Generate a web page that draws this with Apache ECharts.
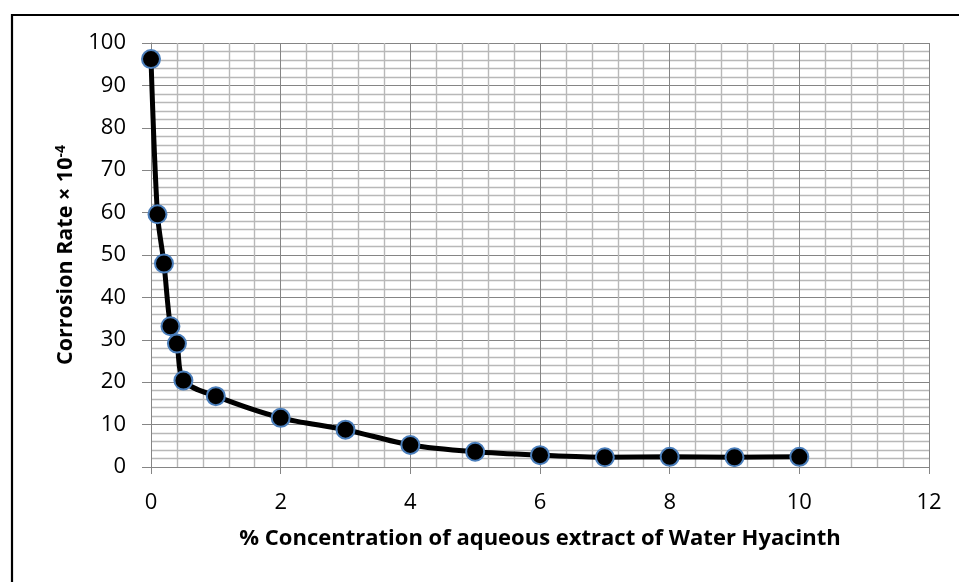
<!DOCTYPE html>
<html>
<head>
<meta charset="utf-8">
<script src="https://cdn.jsdelivr.net/npm/echarts@6/dist/echarts.min.js"></script>
<style>
html,body{margin:0;padding:0;background:#fff;}
#chart{width:959px;height:582px;}
</style>
</head>
<body>
<div id="chart"></div>
<script>
const concentration = [0, 0.1, 0.2, 0.3, 0.4, 0.5, 1, 2, 3, 4, 5, 6, 7, 8, 9, 10];
const corrosionRate = [96.2, 59.6, 48.0, 33.2, 29.1, 20.4, 16.7, 11.6, 8.8, 5.2, 3.6, 2.8, 2.3, 2.4, 2.3, 2.4];
const xTitle = '% Concentration of aqueous extract of Water Hyacinth';
const yTitle = 'Corrosion Rate × 10{sup|-4}';

const chart = echarts.init(document.getElementById('chart'), null, {renderer: 'canvas'});
const font = 'Open Sans';
const major = '#858585';
const minor = '#B8B8B8';

chart.setOption({
  animation: false,
  backgroundColor: '#fff',
  graphic: [{
    type: 'rect',
    shape: {x: 12, y: 15, width: 1000, height: 700},
    style: {fill: 'none', stroke: '#000', lineWidth: 2.2},
    silent: true
  }],
  grid: {left: 151, right: 30, top: 43, bottom: 115, containLabel: false},
  xAxis: {
    type: 'value', min: 0, max: 12, interval: 2,
    name: xTitle, nameLocation: 'middle', nameGap: 61,
    nameTextStyle: {fontFamily: font, fontWeight: 'bold', fontSize: 22, color: '#000'},
    axisLine: {show: true, lineStyle: {color: major, width: 1}},
    axisTick: {show: true, length: 7, lineStyle: {color: major}},
    axisLabel: {fontFamily: font, fontSize: 22, color: '#000', margin: 25},
    splitLine: {show: true, lineStyle: {color: major, width: 1}},
    minorTick: {show: false, splitNumber: 5},
    minorSplitLine: {show: true, lineStyle: {color: minor, width: 1.4}}
  },
  yAxis: {
    type: 'value', min: 0, max: 100, interval: 10,
    name: yTitle, nameLocation: 'middle', nameGap: 73, nameRotate: 90,
    nameTextStyle: {fontFamily: font, fontWeight: 'bold', fontSize: 21.5, color: '#000',
      rich: {sup: {fontFamily: font, fontWeight: 'bold', fontSize: 14, color: '#000', verticalAlign: 'top', padding: [0, 0, 10, 0]}}},
    axisLine: {show: true, lineStyle: {color: major, width: 1}},
    axisTick: {show: true, length: 9, lineStyle: {color: major}},
    axisLabel: {fontFamily: font, fontSize: 22, color: '#000', margin: 25},
    splitLine: {show: true, lineStyle: {color: major, width: 1}},
    minorTick: {show: false, splitNumber: 5},
    minorSplitLine: {show: true, lineStyle: {color: minor, width: 1.4}}
  },
  series: [{
    type: 'line',
    data: concentration.map((x, i) => [x, corrosionRate[i]]),
    smooth: 0.3,
    lineStyle: {color: '#000', width: 5},
    symbol: 'circle',
    symbolSize: 18,
    itemStyle: {color: '#000', borderColor: '#4A7EBB', borderWidth: 2},
    z: 5
  }]
});
</script>
</body>
</html>
